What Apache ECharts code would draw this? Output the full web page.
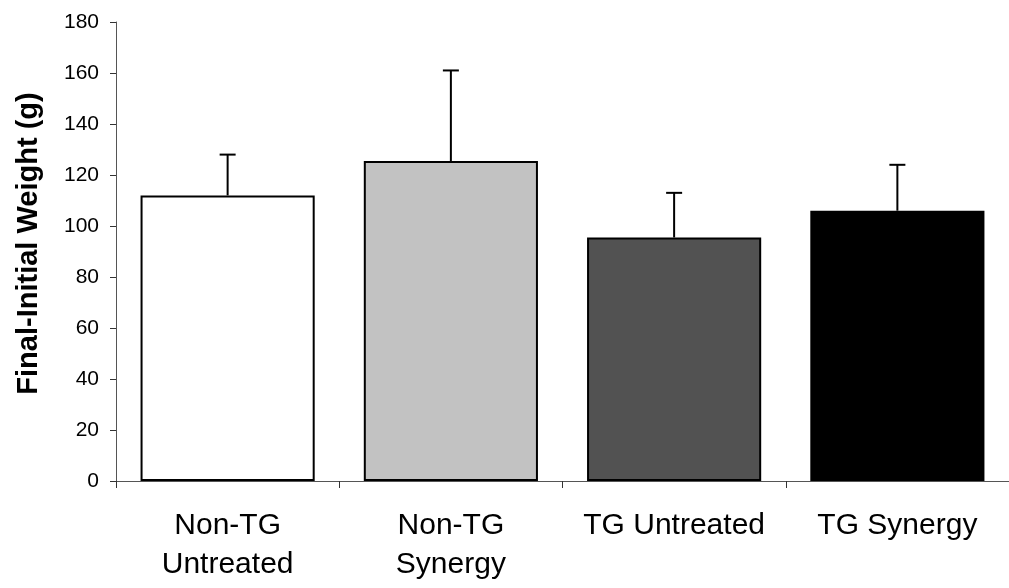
<!DOCTYPE html>
<html>
<head>
<meta charset="utf-8">
<script src="https://cdn.jsdelivr.net/npm/echarts@6/dist/echarts.min.js"></script>
<style>
  html, body { margin: 0; padding: 0; background: #fff; }
  #chart { width: 1009px; height: 588px; }
</style>
</head>
<body>
<div id="chart"></div>
<script>
const categories = ['Non-TG\nUntreated', 'Non-TG\nSynergy', 'TG Untreated', 'TG Synergy']
const means = [112, 125.5, 95.5, 106]
const errTops = [128, 161, 113, 124]
const barColors = ['#ffffff', '#c2c2c2', '#525252', '#000000']
const yTicks = [0, 20, 40, 60, 80, 100, 120, 140, 160, 180]

const chart = echarts.init(document.getElementById('chart'))

chart.setOption({
  animation: false,
  grid: {
    left: 116,
    top: 22,
    width: 902,
    bottom: 107
  },
  xAxis: {
    type: 'category',
    data: categories,
    axisLine: { lineStyle: { color: '#555', width: 1 } },
    axisTick: { show: true, interval: 0, length: 7, lineStyle: { color: '#333' } },
    axisLabel: {
      interval: 0,
      hideOverlap: false,
      color: '#000',
      fontFamily: 'Liberation Sans, Arial, sans-serif',
      fontSize: 30,
      lineHeight: 39,
      margin: 25
    }
  },
  yAxis: {
    type: 'value',
    min: yTicks[0],
    max: yTicks[yTicks.length - 1],
    interval: 20,
    name: 'Final-Initial Weight (g)',
    nameLocation: 'middle',
    nameGap: 73,
    nameTextStyle: {
      color: '#000',
      fontFamily: 'Liberation Sans, Arial, sans-serif',
      fontSize: 29,
      fontWeight: 'bold',
      padding: [0, 0, 0, 16]
    },
    splitLine: { show: false },
    axisLine: { show: true, lineStyle: { color: '#555', width: 1 } },
    axisTick: { show: true, length: 6, lineStyle: { color: '#333' } },
    axisLabel: {
      color: '#000',
      fontFamily: 'Liberation Sans, Arial, sans-serif',
      fontSize: 21,
      margin: 17
    }
  },
  series: [{
    type: 'bar',
    barWidth: '78%',
    data: means.map((v, i) => ({
      value: v,
      itemStyle: { color: barColors[i], borderColor: '#000', borderWidth: 2 }
    })),
    z: 2
  }, {
    // error bars (upper only)
    type: 'custom',
    data: means.map((v, i) => [i, v, errTops[i]]),
    renderItem(params, api) {
      const x = api.value(0)
      const base = api.coord([x, api.value(1)])
      const top = api.coord([x, api.value(2)])
      const half = 8
      return {
        type: 'group',
        children: [{
          type: 'line',
          shape: { x1: base[0], y1: base[1], x2: top[0], y2: top[1] },
          style: { stroke: '#000', lineWidth: 2 }
        }, {
          type: 'line',
          shape: { x1: top[0] - half, y1: top[1], x2: top[0] + half, y2: top[1] },
          style: { stroke: '#000', lineWidth: 2 }
        }]
      }
    },
    z: 3
  }]
})
</script>
</body>
</html>
